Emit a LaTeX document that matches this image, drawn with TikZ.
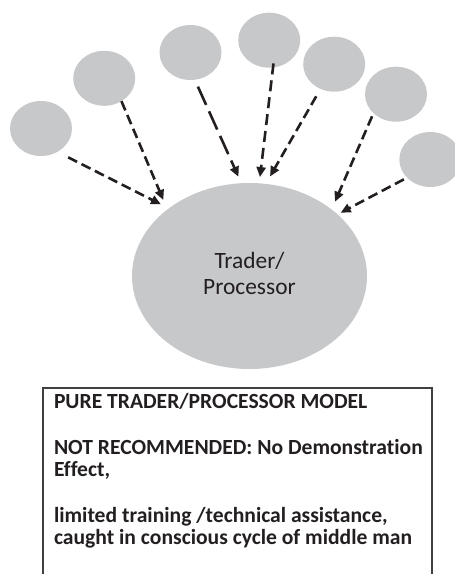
\documentclass[tikz,border=0pt]{standalone}
\usepackage{fontspec}
\setmainfont{Carlito}[Ligatures=NoCommon]
\usetikzlibrary{arrows.meta,shapes.geometric}

\definecolor{blobgray}{RGB}{199,200,202}
\definecolor{ink}{RGB}{35,31,32}
\definecolor{framegray}{RGB}{64,64,64}

\begin{document}
\begin{tikzpicture}[x=1pt,y=-1pt,
  farmer/.style={ellipse, fill=blobgray, minimum width=62pt, minimum height=55pt,
    inner sep=0pt, outer sep=0pt},
  hub/.style={ellipse, fill=blobgray, minimum width=235pt, minimum height=186pt,
    inner sep=0pt, outer sep=0pt},
  hubtext/.style={inner sep=0pt, outer sep=0pt, text=ink, align=center,
    font=\fontsize{23.4}{26}\selectfont},
  flow/.style={draw=ink, line width=2.6pt, dash pattern=on 10pt off 5pt,
    -{Triangle[length=10pt,width=9pt]}},
  longflow/.style={flow, dash pattern=on 20pt off 7pt},
  midflow/.style={flow, dash pattern=on 11pt off 6pt},
  panel/.style={draw=framegray, line width=1.2pt, minimum width=389pt,
    minimum height=200pt, inner sep=0pt, outer sep=0pt},
  notetext/.style={inner sep=0pt, outer sep=0pt, align=left, text=ink,
    font=\bfseries\fontsize{21.6}{22.7}\selectfont}
]
\useasboundingbox (0,0) rectangle (455,574);
\clip (0,0) rectangle (455,574);

% suppliers feeding the central buyer
\node[farmer] (c1) at (41,128.5) {};
\node[farmer] (c2) at (104.2,78.3) {};
\node[farmer] (c3) at (190.5,52.5) {};
\node[farmer] (c4) at (269.2,40.2) {};
\node[farmer] (c5) at (334.2,64.2) {};
\node[farmer] (c6) at (396,94.2) {};
\node[farmer] (c7) at (430.3,159.5) {};

% central trader / processor
\node[hub] (hub) at (249.5,276) {};
\node[hubtext] (hublabel) at ([yshift=2.5pt]hub.center) {Trader/\\Processor};

% dashed supply links
\draw[flow, shorten <=12.1pt, shorten >=8.9pt] (c1.-55.2) -- (hub.140.67);
\draw[flow, shorten >=10.4pt] (c2.-53.5) -- (hub.141.96);
\draw[longflow, shorten <=7.6pt, shorten >=7.15pt] (c3.-81.5) -- (hub.95.09);
\draw[midflow, shorten <=-4.05pt, shorten >=6.3pt] (c4.-82.1) -- (hub.84.64);
\draw[flow, shorten <=8.6pt, shorten >=8.6pt] (c5.-119.9) -- (hub.80.35);
\draw[flow, shorten <=3.5pt, shorten >=8.5pt] (c6.-140.3) -- (hub.39.0);
\draw[flow, shorten <=3.6pt, shorten >=3.6pt] (c7.-142.3) -- (hub.35.35);

% description panel
\node[panel, anchor=north west] (panel) at (43,388) {};
\node[notetext, anchor=north west] (note) at ([xshift=11pt,yshift=-5.5pt]panel.north west)
  {PURE TRADER/PROCESSOR MODEL\\[22.7pt]
   NOT RECOMMENDED: No Demonstration\\
   Effect,\\[22.7pt]
   limited training /technical assistance,\\
   caught in conscious cycle of middle man};
\end{tikzpicture}
\end{document}
